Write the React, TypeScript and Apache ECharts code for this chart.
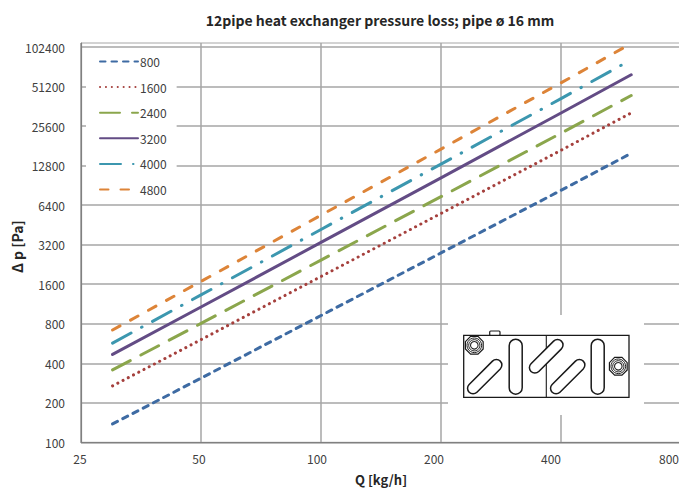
import React, { useEffect, useRef } from "react";
import * as echarts from "echarts";

const FONT = '"Noto Sans CJK SC", "Noto Sans", sans-serif';
const flow = [30, 50, 100, 200, 400, 600];
const seriesNames = ["800", "1600", "2400", "3200", "4000", "4800"];
const s800 = [138, 308, 924, 2770, 8300, 15900];
const s1600 = [269, 605, 1831, 5540, 16770, 32300];
const s2400 = [356, 804, 2442, 7430, 22600, 43800];
const s3200 = [467, 1072, 3330, 10340, 32200, 63000];
const s4000 = [570, 1326, 4180, 13160, 41500, 82000];
const s4800 = [717, 1680, 5370, 17120, 54700, 109000];
const xTicks = [25, 50, 100, 200, 400, 800];
const yTicks = [100, 200, 400, 800, 1600, 3200, 6400, 12800, 25600, 51200, 102400];
const colors = ["#3E6BA3", "#A5403D", "#8BA64C", "#634C85", "#3C97AF", "#DD8438"];
const dashes: any[] = [[5.5, 6], [0.1, 5.8], [20, 12], "solid", [21, 12, 0.5, 12], [8.5, 12]];
const allValues = [s800, s1600, s2400, s3200, s4000, s4800];
const xLabelShift = [1, 2, 4, 7, 10, 12];

const xRich: any = {};
xTicks.forEach((t, i) => {
  xRich["t" + i] = { fontFamily: FONT, fontSize: 12, color: "#404040", padding: [0, xLabelShift[i] * 2, 0, 0] };
});

const slot = (cx: number, cy: number, len: number, h: number, rot: number) => ({
  type: "rect", x: cx, y: cy, rotation: rot,
  shape: { x: -len / 2, y: -h / 2, width: len, height: h, r: h / 2 },
  style: { fill: "#fff", stroke: "#1a1a1a", lineWidth: 1.5 }, z: 12,
});
const octagon = (cx: number, cy: number) => ({
  type: "group", z: 12,
  children: [
    { type: "polygon", z: 12, shape: { points: [0, 1, 2, 3, 4, 5, 6, 7].map((i) => [cx + 9.6 * Math.cos(Math.PI / 8 + (i * Math.PI) / 4), cy + 9.6 * Math.sin(Math.PI / 8 + (i * Math.PI) / 4)]) }, style: { fill: "#fff", stroke: "#1a1a1a", lineWidth: 1.2 } },
    { type: "circle", z: 12, shape: { cx, cy, r: 7.3 }, style: { fill: "#fff", stroke: "#222", lineWidth: 1 } },
    { type: "circle", z: 12, shape: { cx, cy, r: 5.6 }, style: { fill: "#fff", stroke: "#222", lineWidth: 1 } },
    { type: "circle", z: 12, shape: { cx, cy, r: 3.8 }, style: { fill: "#fff", stroke: "#222", lineWidth: 1.1 } },
  ],
});

export default function App() {
  const ref = useRef<HTMLDivElement>(null);
  useEffect(() => {
    const chart = echarts.init(ref.current!, undefined, { renderer: "svg" });
    const axisCommon = {
      type: "log" as const,
      logBase: 2,
      axisLine: { show: true, onZero: false, lineStyle: { color: "#808080", width: 1.2 } },
      splitLine: { show: true, lineStyle: { color: "#A6A6A6", width: 1.5 } },
      minorTick: { show: false },
      minorSplitLine: { show: false },
    };
    chart.setOption({
      animation: false,
      backgroundColor: "#fff",
      textStyle: { fontFamily: FONT },
      title: {
        text: "12pipe heat exchanger pressure loss; pipe ø 16 mm",
        left: 375, top: 8, textAlign: "center",
        textStyle: { fontFamily: FONT, fontSize: 14, fontWeight: "bold", color: "#262626" },
      },
      legend: {
        left: 86, top: 50, orient: "vertical", selectedMode: false,
        backgroundColor: "#fff", padding: [5.5, 10, 5, 13],
        itemWidth: 38, itemHeight: 14, itemGap: 13.6,
        itemStyle: { color: "transparent", borderColor: "transparent", opacity: 0 },
        textStyle: { fontFamily: FONT, fontSize: 12, color: "#404040", padding: [0, 0, 0, -3] },
        data: seriesNames,
      },
      grid: { left: 81, top: 43, width: 600, height: 399.3, show: true, borderColor: "#A6A6A6", borderWidth: 1, outerBoundsMode: "none" },
      xAxis: {
        ...axisCommon, min: 25, max: 800,
        name: "Q [kg/h]", nameLocation: "middle", nameGap: 31,
        nameTextStyle: { fontFamily: FONT, fontSize: 13, fontWeight: "bold", color: "#262626" },
        axisTick: { show: false, customValues: xTicks },
        axisLabel: {
          customValues: xTicks, margin: 10, fontFamily: FONT, fontSize: 12, color: "#404040",
          showMinLabel: true, showMaxLabel: true, hideOverlap: false,
          formatter: (v: number) => `{t${xTicks.indexOf(v)}|${v}}`, rich: xRich,
        },
      },
      yAxis: {
        ...axisCommon, min: 100, max: 110000,
        name: "Δ p [Pa]", nameLocation: "middle", nameGap: 57, nameRotate: 90, nameMoveOverlap: false,
        nameTextStyle: { fontFamily: FONT, fontSize: 14, fontWeight: "bold", color: "#262626", padding: [0, 8, 0, 0] },
        axisTick: { show: false, customValues: yTicks },
        axisLabel: { customValues: yTicks, margin: 16, fontFamily: FONT, fontSize: 12, color: "#404040", formatter: (v: number) => String(v) },
      },
      series: seriesNames.map((name, i) => ({
        name, type: "line", showSymbol: false, symbol: "none", z: 3,
        data: flow.map((q, j) => [q, allValues[i][j]]),
        lineStyle: { color: colors[i], width: 3, type: dashes[i], cap: "round" },
        itemStyle: { color: colors[i] },
      })),
      graphic: [
        { type: "rect", z: 10, shape: { x: 448, y: 315, width: 196, height: 100 }, style: { fill: "#fff" } },
        { type: "rect", z: 11, shape: { x: 489.7, y: 331, width: 10.3, height: 4.5, r: 1 }, style: { fill: "#fff", stroke: "#1a1a1a", lineWidth: 1.2 } },
        { type: "rect", z: 11, shape: { x: 463.7, y: 335.3, width: 165.3, height: 62 }, style: { fill: "#fff", stroke: "#1a1a1a", lineWidth: 1.3 } },
        { type: "line", z: 11, shape: { x1: 546.3, y1: 335.3, x2: 546.3, y2: 397.3 }, style: { stroke: "#1a1a1a", lineWidth: 1.1 } },
        slot(484.7, 376.7, 44, 11, Math.PI / 4),
        slot(515.7, 366.7, 55, 13, Math.PI / 2),
        slot(546.2, 356.3, 43, 11, Math.PI / 4),
        slot(567.7, 376.7, 44, 11, Math.PI / 4),
        slot(597.7, 366.7, 55, 13, Math.PI / 2),
        octagon(474.3, 345.3),
        octagon(618.3, 366.3),
      ],
    });
    return () => chart.dispose();
  }, []);
  return <div ref={ref} style={{ position: "absolute", left: 0, top: 0, width: 679, height: 489 }} />;
}
